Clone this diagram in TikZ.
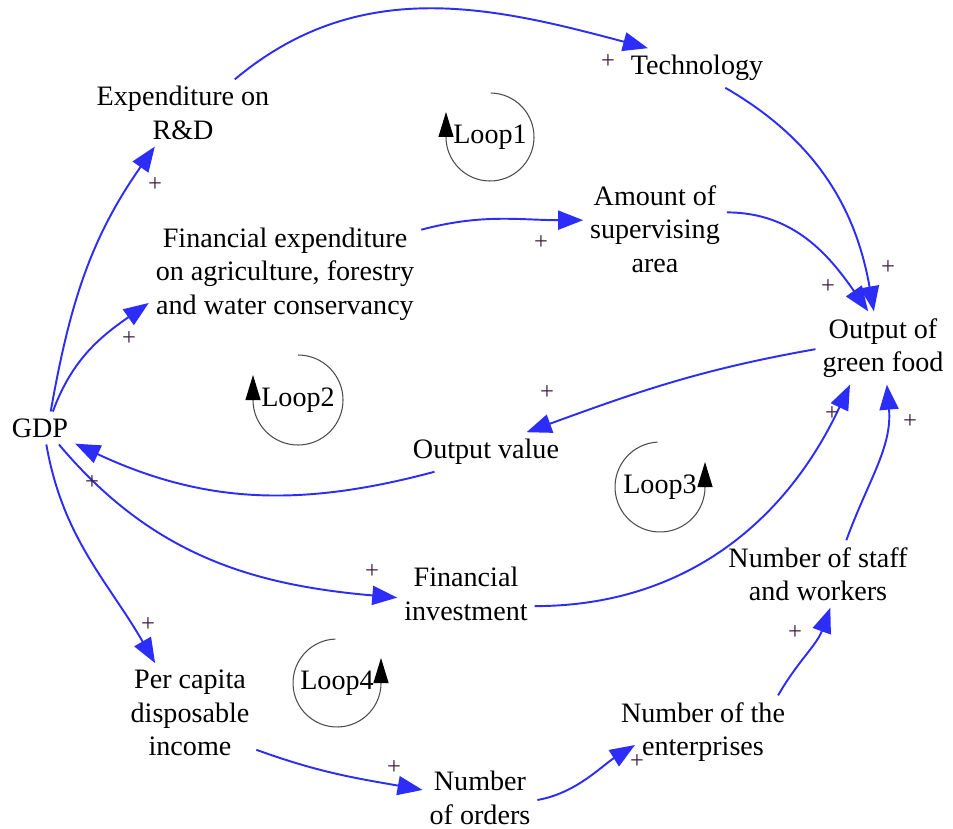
\documentclass[tikz,border=0pt]{standalone}
\usepackage{fontspec}
\setmainfont{Liberation Serif}
\usepackage{tikz}
\usetikzlibrary{arrows.meta,positioning,calc}
\definecolor{linkblue}{RGB}{45,45,250}
\definecolor{signdark}{RGB}{60,30,60}

\begin{document}
\begin{tikzpicture}[
  var/.style  = {align=center, inner sep=1pt, outer sep=3pt,
                 font=\fontsize{16}{19}\selectfont},
  sgn/.style  = {inner sep=0pt, text=signdark, font=\fontsize{14}{16}\selectfont},
  link/.style = {draw=linkblue, line width=1.1pt,
                 -{Triangle[length=0.5cm, width=0.38cm]}},
  loop/.style = {draw=black!70, line width=0.6pt,
                 -{Triangle[length=0.5cm, width=0.3cm, color=black]}},
  lbl/.style  = {inner sep=0pt, font=\fontsize{16}{19}\selectfont},
]
\useasboundingbox (0,0) rectangle (19.06,-16.58);

% ========== Variables ==========
\node[var] (gdp)    at (0.80,-8.56)  {GDP};
\node[var] (rd)     at (3.66,-2.26)  {Expenditure on\\R\&D};
\node[var] (tech)   at (13.94,-1.36) {Technology};
\node[var] (fexp)   at (5.70,-5.48)  {Financial expenditure\\on agriculture, forestry\\and water conservancy};
\node[var] (area)   at (13.10,-4.58) {Amount of\\supervising\\area};
\node[var] (green)  at (17.66,-6.96) {Output of\\green food};
\node[var] (oval)   at (9.72,-9.04)  {Output value};
\node[var] (finv)   at (9.32,-11.88) {Financial\\investment};
\node[var] (staff)  at (16.36,-11.48) {Number of staff\\and workers};
\node[var] (income) at (3.80,-14.26) {Per capita\\disposable\\income};
\node[var] (orders) at (9.60,-15.96) {Number\\of orders};
\node[var] (ent)    at (14.06,-14.64) {Number of the\\enterprises};

% ========== Causal links ==========
\draw[link] (gdp.57)    to[out=80, in=235]  (rd.230);
\draw[link] (rd.33)     to[out=40, in=165]  (tech.158);
\draw[link] (gdp.52)    to[out=70, in=215]  (fexp.192);
\draw[link] (fexp.18)   to[out=15, in=180]  (area.173);
\draw[link] (tech.-35)  to[out=-30, in=100] (green.104);
\draw[link] (area.13)   to[out=0, in=125]   (green.112);
\draw[link] (green.181) to[out=190, in=20]  (oval.26);
\draw[link] (oval.201)  to[out=195, in=-25] (gdp.-24);
\draw[link] (gdp.-41)   to[out=-50, in=175] (finv.183);
\draw[link] (finv.-10)  to[out=0, in=245]   (green.228);
\draw[link] (staff.50)  to[out=70, in=-85]  (green.276);
\draw[link] (gdp.-69)   to[out=-80, in=120] (income.125);
\draw[link] (income.-29) to[out=-20, in=170] (orders.172);
\draw[link] (orders.-2) to[out=10, in=212, looseness=0.9] ([xshift=0.42cm, yshift=-0.26cm]ent.west);
\draw[link] (ent.26)    to[out=60, in=-110] (staff.290);

% ========== Polarity signs ==========
\node[sgn] (s1)  at (3.10,-3.70)  {+};
\node[sgn] (s2)  at (12.16,-1.24) {+};
\node[sgn] (s3)  at (2.58,-6.78)  {+};
\node[sgn] (s4)  at (10.82,-4.86) {+};
\node[sgn] (s5)  at (17.76,-5.36) {+};
\node[sgn] (s6)  at (16.56,-5.74) {+};
\node[sgn] (s7)  at (10.94,-7.86) {+};
\node[sgn] (s8)  at (1.84,-9.66)  {+};
\node[sgn] (s9)  at (7.44,-11.44) {+};
\node[sgn] (s10) at (16.64,-8.28) {+};
\node[sgn] (s11) at (18.20,-8.44) {+};
\node[sgn] (s12) at (2.96,-12.50) {+};
\node[sgn] (s13) at (7.88,-15.36) {+};
\node[sgn] (s14) at (12.74,-15.24) {+};
\node[sgn] (s15) at (15.90,-12.66) {+};

% ========== Loop markers ==========
\node[lbl] (l1) at (9.80,-2.74)  {Loop1};
\node[lbl] (l2) at (5.96,-8.00)  {Loop2};
\node[lbl] (l3) at (13.20,-9.74) {Loop3};
\node[lbl] (l4) at (6.74,-13.66) {Loop4};

\draw[loop] (l1.center) ++(89:0.88) arc[start angle=89, end angle=-180, radius=0.88] -- ++(0,0.5);
\draw[loop] (l2.center) ++(90:0.9)  arc[start angle=90, end angle=-180, radius=0.9] -- ++(0,0.5);
\draw[loop] (l3.center) ++(93:0.9)  arc[start angle=93, end angle=360, radius=0.9] -- ++(0,0.5);
\draw[loop] (l4.center) ++(92:0.88) arc[start angle=92, end angle=360, radius=0.88] -- ++(0,0.5);

\end{tikzpicture}
\end{document}
